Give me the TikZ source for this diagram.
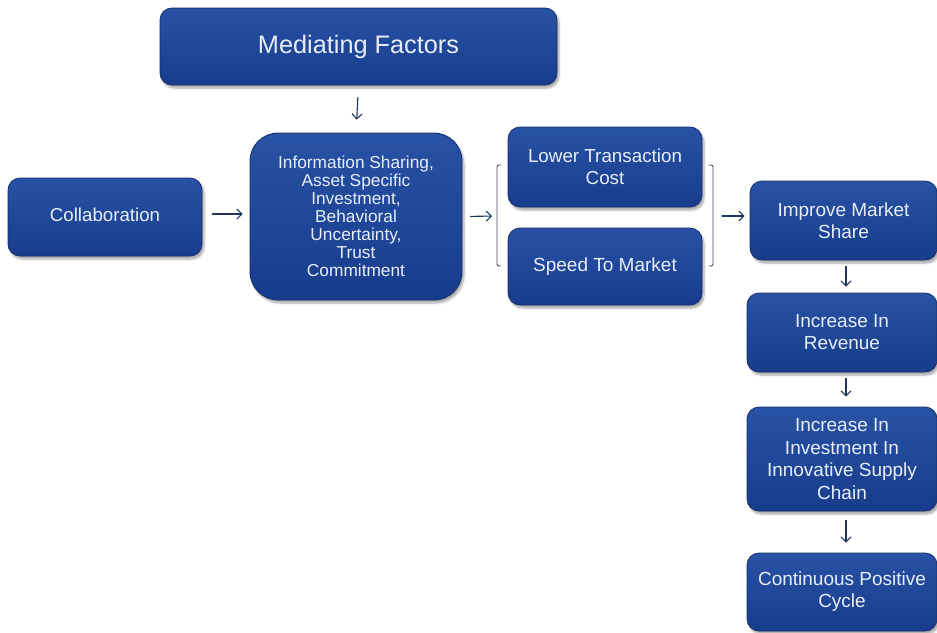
\documentclass[tikz,border=0pt]{standalone}
\usepackage{fontspec}
\setmainfont{Liberation Sans}
\usepackage{tikz}
\usetikzlibrary{arrows.meta}
\usetikzlibrary{shadows.blur}

\definecolor{boxtop}{RGB}{40,82,165}
\definecolor{boxbot}{RGB}{24,60,140}
\definecolor{boxedge}{RGB}{20,48,108}
\definecolor{arrowblue}{RGB}{31,52,96}
\definecolor{brkgray}{RGB}{60,72,96}
\definecolor{boxtext}{RGB}{232,238,248}

\begin{document}
\begin{tikzpicture}[x=1pt, y=-1pt, line join = round, line cap = round,
  blockbox/.style={rounded corners=12pt, top color=boxtop, bottom color=boxbot, draw=boxedge, line width=0.8pt,
    blur shadow={shadow xshift=2pt, shadow yshift=-3pt, shadow blur steps=6, shadow opacity=35},
    text=boxtext, align=center, inner sep=0pt},
  flowarrow/.style={-{Straight Barb[length=5pt, width=10pt]}, draw=arrowblue, line width=1.1pt},
  bracketline/.style={draw=brkgray, line width=0.9pt, rounded corners=2pt}]

\useasboundingbox (0,0) rectangle (937,632);

% top box
\node[blockbox, minimum width=397pt, minimum height=77pt, font=\fontsize{25.3}{29}\selectfont] (med) at (358.5,46.5) {Mediating Factors};

% middle row
\node[blockbox, minimum width=194pt, minimum height=78pt, font=\fontsize{18.7}{22}\selectfont] (collab) at (105,217) {Collaboration\strut};
\node[blockbox, rounded corners=28pt, minimum width=212pt, minimum height=167pt, font=\fontsize{17.3}{18}\selectfont] (info) at (356,216.5)
  {Information Sharing,\\Asset Specific\\Investment,\\Behavioral\\Uncertainty,\\Trust\\Commitment};
\node[blockbox, minimum width=194pt, minimum height=80pt, font=\fontsize{18.8}{22.5}\selectfont] (ltc) at (605,167) {Lower Transaction\\Cost};
\node[blockbox, minimum width=194pt, minimum height=77pt, font=\fontsize{19}{22.5}\selectfont] (stm) at (605,266.5) {Speed To Market};

% right column
\node[blockbox, minimum width=187pt, minimum height=79pt, font=\fontsize{19}{22}\selectfont] (ims) at (843.5,220.5) {Improve Market\\Share};
\node[blockbox, minimum width=190pt, minimum height=79pt, font=\fontsize{19}{22}\selectfont] (rev) at (842,332.5) {Increase In\\Revenue};
\node[blockbox, minimum width=190pt, minimum height=104pt, font=\fontsize{19}{22.5}\selectfont] (inv) at (842,459) {Increase In\\Investment In\\Innovative Supply\\Chain};
\node[blockbox, minimum width=190pt, minimum height=78pt, font=\fontsize{19}{22}\selectfont] (cyc) at (842,592) {Continuous Positive\\Cycle};

% brackets round the two outcome boxes
\coordinate (lbr) at (497,216);
\coordinate (rbr) at (713,216);
\draw[bracketline] (501,165) -- (497,165) -- (497,266) -- (501,266); % left
\draw[bracketline] (709,165) -- (713,165) -- (713,266) -- (709,266); % right

% helper lines for the arrows
\coordinate (row) at (0,214);
\coordinate (col) at (846,0);

% arrows
\draw[flowarrow, shorten <=12pt, shorten >=13pt] (med.south) -- (info.north);
\draw[flowarrow, shorten <=10pt, shorten >=7pt] (collab.east |- row) -- (info.west |- row);
\draw[flowarrow, shorten <=8pt, shorten >=5pt] (info.east) -- (lbr);
\draw[flowarrow, shorten <=9pt, shorten >=5pt] (rbr) -- (ims.west |- rbr);
\draw[flowarrow, shorten <=6pt, shorten >=6pt] (ims.south -| col) -- (rev.north -| col);
\draw[flowarrow, shorten <=6pt, shorten >=10pt] (rev.south -| col) -- (inv.north -| col);
\draw[flowarrow, shorten <=9pt, shorten >=10pt] (inv.south -| col) -- (cyc.north -| col);

\end{tikzpicture}
\end{document}
